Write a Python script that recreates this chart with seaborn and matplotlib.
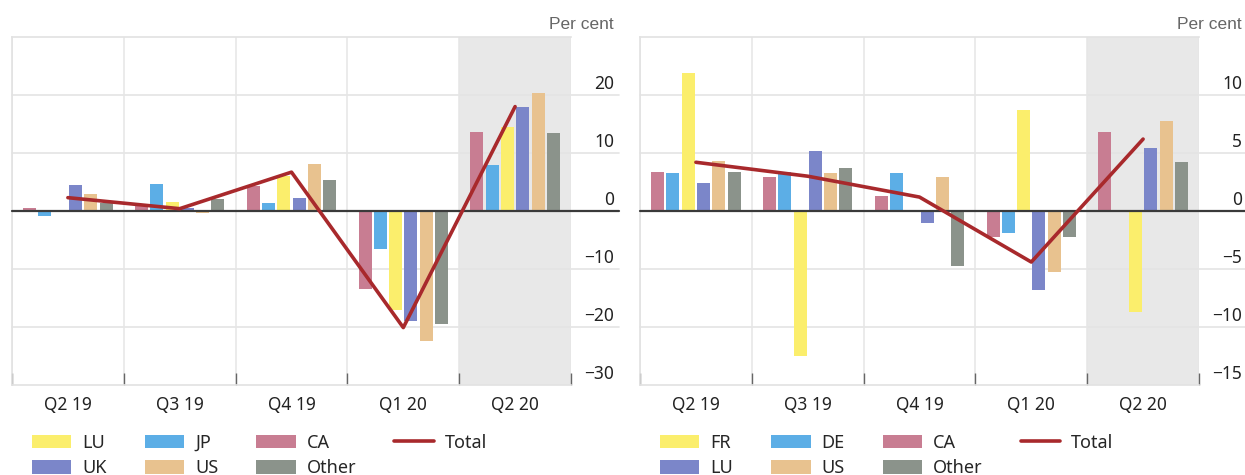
import numpy as np
import pandas as pd
import matplotlib
matplotlib.use("Agg")
import matplotlib.pyplot as plt
import seaborn as sns
from matplotlib.patches import Patch
from matplotlib.lines import Line2D
from matplotlib.transforms import ScaledTranslation

# ---- data ----
quarters = ["Q2 19", "Q3 19", "Q4 19", "Q1 20", "Q2 20"]

# left panel
left_order = ["CA", "JP", "LU", "UK", "US", "Other"]
left_ca = [0.6, 0.8, 4.3, -13.4, 13.7]
left_jp = [-0.8, 4.7, 1.4, -6.6, 8.0]
left_lu = [0.2, 1.5, 6.0, -17.0, 14.4]
left_uk = [4.5, 0.5, 2.2, -18.9, 17.9]
left_us = [2.9, -0.4, 8.1, -22.4, 20.4]
left_other = [1.3, 2.1, 5.4, -19.4, 13.5]
left_total = [2.3, 0.4, 6.7, -20.1, 18.0]
left_legend = ["LU", "UK", "JP", "US", "CA", "Other"]
left_yticks = [-30, -20, -10, 0, 10, 20]

# right panel
right_order = ["CA", "DE", "FR", "LU", "US", "Other"]
right_ca = [3.4, 2.9, 1.3, -2.2, 6.8]
right_de = [3.3, 3.4, 3.3, -1.9, 0.0]
right_fr = [11.9, -12.5, 0.1, 8.7, -8.7]
right_lu = [2.4, 5.2, -1.0, -6.8, 5.4]
right_us = [4.3, 3.3, 2.9, -5.3, 7.8]
right_other = [3.4, 3.7, -4.7, -2.2, 4.2]
right_total = [4.2, 3.0, 1.2, -4.4, 6.2]
right_legend = ["FR", "LU", "DE", "US", "CA", "Other"]
right_yticks = [-15, -10, -5, 0, 5, 10]

# colours
YELLOW = "#fbee6c"
BLUE = "#5caee6"
PINK = "#c87d92"
PURPLE = "#7b86c9"
TAN = "#e8c28f"
GREY = "#8b938b"
RED = "#a8292c"

left_pal = {"CA": PINK, "JP": BLUE, "LU": YELLOW, "UK": PURPLE, "US": TAN, "Other": GREY}
right_pal = {"CA": PINK, "DE": BLUE, "FR": YELLOW, "LU": PURPLE, "US": TAN, "Other": GREY}

sns.set_theme(style="white")
plt.rcParams['font.family'] = ['Noto Sans', 'DejaVu Sans']


def long_frame(order, cols):
    rows = []
    for name, vals in zip(order, cols):
        for q, v in zip(quarters, vals):
            rows.append({"quarter": q, "country": name, "value": v})
    return pd.DataFrame(rows)


def draw_panel(ax, df, order, pal, total, ylim, yticks, legend_order):
    ax.axvspan(3.5, 4.5, color="#e8e8e8", zorder=0, lw=0)
    sns.barplot(data=df, x="quarter", y="value", hue="country", hue_order=order,
                order=quarters, palette=pal, saturation=1, width=0.82, gap=0.15,
                errorbar=None, legend=False, ax=ax, zorder=2, linewidth=0, edgecolor="none")
    sns.lineplot(x=np.arange(len(quarters)), y=total, ax=ax, color=RED, lw=2.6, zorder=5)

    ax.set_xlim(-0.5, len(quarters) - 0.5)
    ax.set_ylim(ylim)
    ax.set_xlabel("")
    ax.set_ylabel("")

    # horizontal gridlines (run out under the tick labels)
    for v in yticks:
        if v == ylim[0]:
            continue
        if v == 0:
            ax.axhline(0, xmin=0, xmax=1.085, color="#3a3a3a", lw=1.6, zorder=4, clip_on=False)
        else:
            ax.axhline(v, xmin=0, xmax=1.085, color="#e4e4e4", lw=1.2, zorder=0.5, clip_on=False)

    # quarter separators
    ax.set_xticks(np.arange(-0.5, len(quarters), 1), minor=True)
    ax.grid(which="minor", axis="x", color="#e6e6e6", lw=1.1)
    ax.set_axisbelow(True)
    ax.tick_params(axis="x", which="minor", direction="in", length=9, width=1.0,
                   color="#666", bottom=True)
    ax.tick_params(axis="x", which="major", length=0, pad=8, labelsize=12.5,
                   labelcolor="#222")

    ax.yaxis.tick_right()
    ax.set_yticks(yticks)
    ax.tick_params(axis="y", length=0, pad=31, labelsize=12.5, labelcolor="#222")
    offset = ScaledTranslation(0, 0.13, ax.figure.dpi_scale_trans)
    for lab in ax.get_yticklabels():
        lab.set_horizontalalignment("right")
        lab.set_transform(lab.get_transform() + offset)

    for side in ["top", "bottom", "left"]:
        ax.spines[side].set_color("#e2e2e2")
        ax.spines[side].set_linewidth(1.2)
    ax.spines["right"].set_visible(False)

    ax.text(1.077, 1.035, "Per cent", transform=ax.transAxes, ha="right", va="center",
            color="#666", fontsize=12.5, family="Liberation Sans")

    handles = [Patch(facecolor=pal[k], edgecolor="none", label=k) for k in legend_order]
    handles.append(Line2D([], [], color=RED, lw=2.6, label="Total"))
    ax.legend(handles=handles, loc="upper left", bbox_to_anchor=(0.035, -0.14), ncol=4,
              frameon=False, fontsize=13, handlelength=2.2, handleheight=0.8,
              handletextpad=0.6, columnspacing=2.1, labelspacing=0.4,
              borderaxespad=0, borderpad=0)


fig = plt.figure(figsize=(12.45, 4.75), dpi=100)
ax1 = fig.add_axes([12 / 1245, 90 / 475, 559 / 1245, 348 / 475])
ax2 = fig.add_axes([640 / 1245, 90 / 475, 559 / 1245, 348 / 475])

left_df = long_frame(left_order, [left_ca, left_jp, left_lu, left_uk, left_us, left_other])
right_df = long_frame(right_order, [right_ca, right_de, right_fr, right_lu, right_us, right_other])

draw_panel(ax1, left_df, left_order, left_pal, left_total, (-30, 30), left_yticks, left_legend)
draw_panel(ax2, right_df, right_order, right_pal, right_total, (-15, 15), right_yticks, right_legend)

fig.savefig("out.png", dpi=100)
